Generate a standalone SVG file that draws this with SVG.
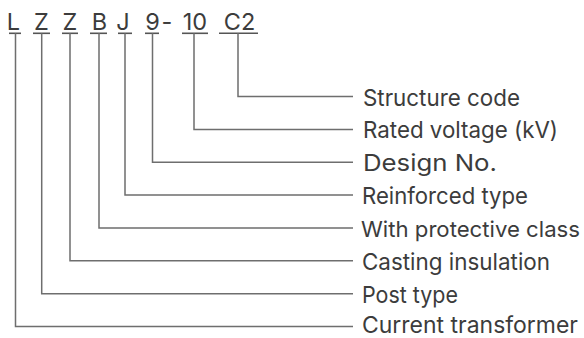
<svg xmlns="http://www.w3.org/2000/svg" width="584" height="338" viewBox="0 0 584 338">
<style>
.code{font-family:Inter,"Liberation Sans",Arial,sans-serif;font-size:23.5px;fill:#3c3c3c;text-anchor:middle}
.lbl{font-family:Inter,"Liberation Sans",Arial,sans-serif;font-size:23px;fill:#3c3c3c}
.ul{stroke:#555;stroke-width:1.6;fill:none}
.con{stroke:#6e6e6e;stroke-width:1.5;fill:none}
</style>
<rect width="584" height="338" fill="#fff"/>
<g id="code">
  <g id="seg-L"><text class="code" x="13.5" y="29.5">L</text><line class="ul" x1="9" y1="33.3" x2="21" y2="33.3"/></g>
  <g id="seg-Z1"><text class="code" x="41.5" y="29.5">Z</text><line class="ul" x1="33" y1="33.3" x2="50" y2="33.3"/></g>
  <g id="seg-Z2"><text class="code" x="70" y="29.5">Z</text><line class="ul" x1="62" y1="33.3" x2="78" y2="33.3"/></g>
  <g id="seg-B"><text class="code" x="99.5" y="29.5">B</text><line class="ul" x1="90" y1="33.3" x2="107" y2="33.3"/></g>
  <g id="seg-J"><text class="code" x="123" y="29.5">J</text><line class="ul" x1="118" y1="33.3" x2="132" y2="33.3"/></g>
  <g id="seg-9"><text class="code" x="152.5" y="29.5">9</text><line class="ul" x1="145" y1="33.3" x2="159" y2="33.3"/></g>
  <g id="seg-dash"><text class="code" x="167" y="29.5">-</text></g>
  <g id="seg-10"><text class="code" x="195" y="29.5">10</text><line class="ul" x1="182" y1="33.3" x2="208" y2="33.3"/></g>
  <g id="seg-C2"><text class="code" x="239.5" y="29.5">C2</text><line class="ul" x1="219" y1="33.3" x2="258" y2="33.3"/></g>
</g>
<g id="connectors">
  <polyline class="con" points="238,33.3 238,96.5 353,96.5"/>
  <polyline class="con" points="194,33.3 194,129.4 353,129.4"/>
  <polyline class="con" points="152.5,33.3 152.5,162.2 353,162.2"/>
  <polyline class="con" points="125,33.3 125,195.1 353,195.1"/>
  <polyline class="con" points="99,33.3 99,227.9 353,227.9"/>
  <polyline class="con" points="70,33.3 70,260.8 353,260.8"/>
  <polyline class="con" points="41.7,33.3 41.7,293.7 353,293.7"/>
  <polyline class="con" points="15.5,33.3 15.5,326.5 353,326.5"/>
</g>
<g id="lbl-structure"><text class="lbl" x="363" y="105.5" textLength="157" lengthAdjust="spacingAndGlyphs">Structure code</text></g>
<g id="lbl-voltage"><text class="lbl" x="363" y="138.4" textLength="195" lengthAdjust="spacingAndGlyphs">Rated voltage (kV)</text></g>
<g id="lbl-design"><text class="lbl" x="363" y="171.2" textLength="134" lengthAdjust="spacingAndGlyphs">Design No.</text></g>
<g id="lbl-reinforced"><text class="lbl" x="362" y="204.1" textLength="166" lengthAdjust="spacingAndGlyphs">Reinforced type</text></g>
<g id="lbl-protective"><text class="lbl" x="361" y="236.8" style="font-size:22px" textLength="219" lengthAdjust="spacingAndGlyphs">With protective class</text></g>
<g id="lbl-casting"><text class="lbl" x="362" y="269.8" textLength="188" lengthAdjust="spacingAndGlyphs">Casting insulation</text></g>
<g id="lbl-post"><text class="lbl" x="362" y="302.7" textLength="96" lengthAdjust="spacingAndGlyphs">Post type</text></g>
<g id="lbl-current"><text class="lbl" x="362" y="333.2" style="font-size:22.5px" textLength="216" lengthAdjust="spacingAndGlyphs">Current transformer</text></g>
</svg>
